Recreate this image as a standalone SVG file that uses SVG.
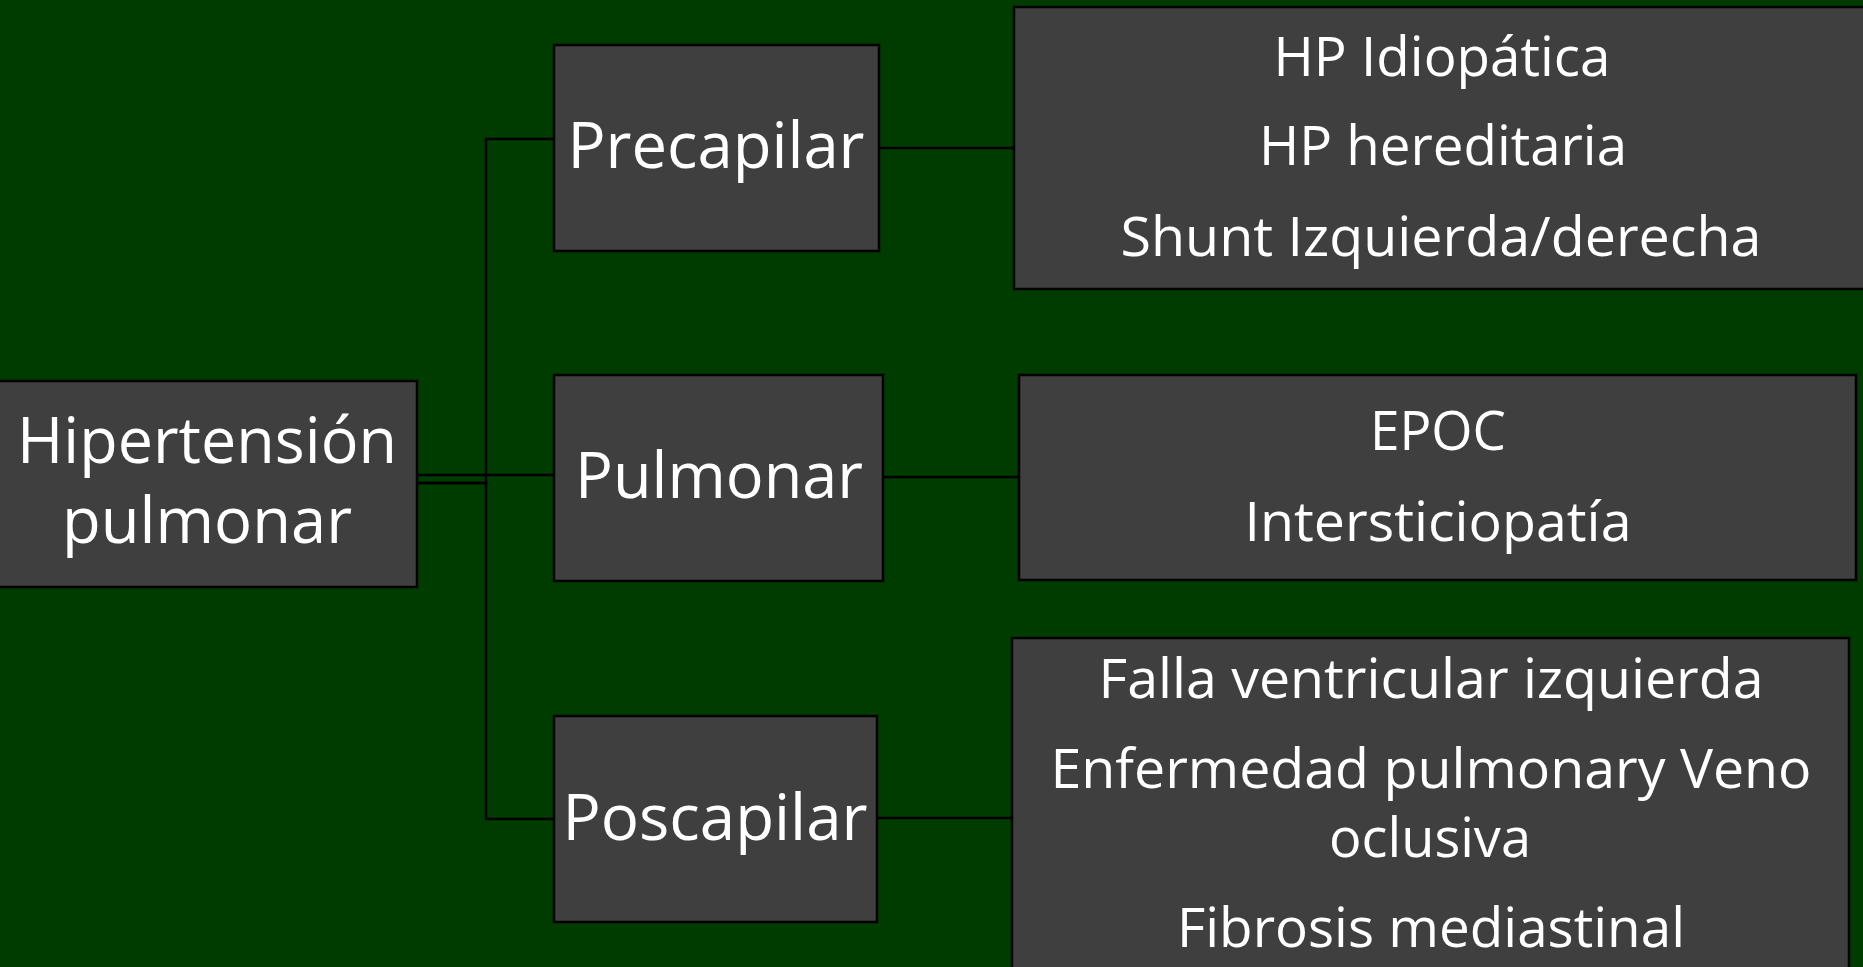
<svg xmlns="http://www.w3.org/2000/svg" width="1863" height="967" viewBox="0 0 1863 967">
<style>
.box{fill:#3f3f3f;stroke:#000;stroke-width:2.5}
.con{fill:none;stroke:#000;stroke-width:2.5}
.t{font-family:"Open Sans","Noto Sans","Liberation Sans",sans-serif;fill:#fff;text-anchor:middle}
.big{font-size:64px}
.sm{font-size:55px}
</style>
<rect x="0" y="0" width="1863" height="967" fill="#003b00"/>
<g id="connectors">
<path class="con" d="M417,483 H486 V139 H554"/>
<path class="con" d="M417,475 H554"/>
<path class="con" d="M417,483 H486 V819 H554"/>
<path class="con" d="M879,148 H1014"/>
<path class="con" d="M883,477 H1019"/>
<path class="con" d="M877,818 H1012"/>
</g>
<g id="root">
<rect class="box" x="-3" y="381" width="420" height="206"/>
<text class="t big" x="207" y="463" textLength="380" lengthAdjust="spacingAndGlyphs">Hipertensión</text>
<text class="t big" x="207" y="543" textLength="290" lengthAdjust="spacingAndGlyphs">pulmonar</text>
</g>
<g id="precapilar">
<rect class="box" x="554" y="45" width="325" height="206"/>
<text class="t big" x="716" y="168" textLength="297" lengthAdjust="spacingAndGlyphs">Precapilar</text>
</g>
<g id="pulmonar">
<rect class="box" x="554" y="375" width="329" height="206"/>
<text class="t big" x="719" y="498" textLength="288" lengthAdjust="spacingAndGlyphs">Pulmonar</text>
</g>
<g id="poscapilar">
<rect class="box" x="554" y="716" width="323" height="206"/>
<text class="t big" x="715" y="840" textLength="305" lengthAdjust="spacingAndGlyphs">Poscapilar</text>
</g>
<g id="precapilar-causes">
<rect class="box" x="1014" y="7" width="860" height="282"/>
<text class="t sm" x="1442" y="76" textLength="337" lengthAdjust="spacingAndGlyphs">HP Idiopática</text>
<text class="t sm" x="1443" y="165" textLength="368" lengthAdjust="spacingAndGlyphs">HP hereditaria</text>
<text class="t sm" x="1441" y="256" textLength="641" lengthAdjust="spacingAndGlyphs">Shunt Izquierda/derecha</text>
</g>
<g id="pulmonar-causes">
<rect class="box" x="1019" y="375" width="837" height="205"/>
<text class="t sm" x="1438" y="450" textLength="136" lengthAdjust="spacingAndGlyphs">EPOC</text>
<text class="t sm" x="1438" y="541" textLength="387" lengthAdjust="spacingAndGlyphs">Intersticiopatía</text>
</g>
<g id="poscapilar-causes">
<rect class="box" x="1012" y="638" width="837" height="340"/>
<text class="t sm" x="1431" y="698" textLength="665" lengthAdjust="spacingAndGlyphs">Falla ventricular izquierda</text>
<text class="t sm" x="1431" y="788" textLength="761" lengthAdjust="spacingAndGlyphs">Enfermedad pulmonary Veno</text>
<text class="t sm" x="1430" y="857" textLength="202" lengthAdjust="spacingAndGlyphs">oclusiva</text>
<text class="t sm" x="1431" y="947" textLength="508" lengthAdjust="spacingAndGlyphs">Fibrosis mediastinal</text>
</g>
</svg>
